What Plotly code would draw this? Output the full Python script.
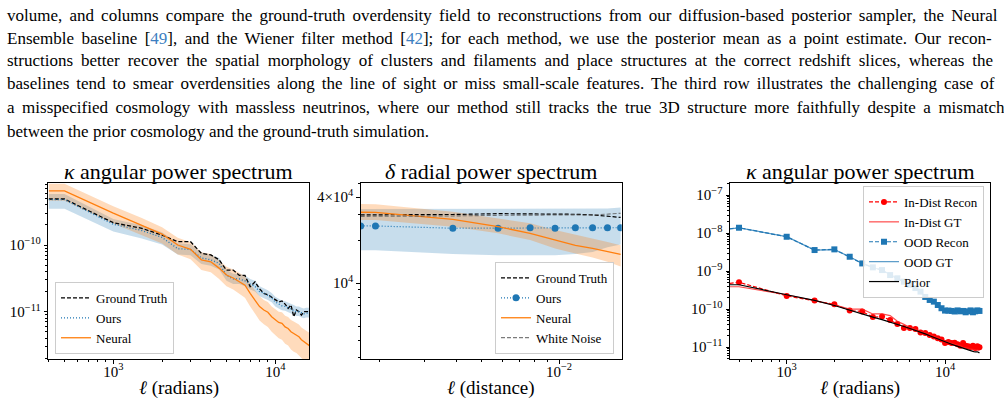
import plotly.graph_objects as go

# ---------------- data ----------------
text_lines = [
    "volume, and columns compare the ground-truth overdensity field to reconstructions from our diffusion-based posterior sampler, the Neural",
    "Ensemble baseline [<span style='color:#3d7fc1'>49</span>], and the Wiener filter method [<span style='color:#3d7fc1'>42</span>]; for each method, we use the posterior mean as a point estimate. Our recon-",
    "structions better recover the spatial morphology of clusters and filaments and place structures at the correct redshift slices, whereas the",
    "baselines tend to smear overdensities along the line of sight or miss small-scale features. The third row illustrates the challenging case of",
    "a misspecified cosmology with massless neutrinos, where our method still tracks the true 3D structure more faithfully despite a mismatch",
    "between the prior cosmology and the ground-truth simulation.",
]

ell = [400, 500, 1000, 1500, 2000, 2500, 3000, 3500, 4000, 4500, 5000, 5500, 6000, 6500, 7000, 7500,
       8000, 8500, 9000, 9500, 10000, 10500, 11000, 11500, 12000, 12500, 13000, 13500, 14000, 14500,
       15000, 15500, 16000, 16500]

# panel 1: kappa angular power spectrum
k_gt = [4.9e-10, 4.9e-10, 2.16e-10, 1.78e-10, 1.41e-10, 1.12e-10, 1.12e-10, 7.5e-11, 7.1e-11, 6.0e-11,
        4.2e-11, 4.2e-11, 3.5e-11, 3.5e-11, 2.37e-11, 2.8e-11, 2.2e-11, 1.88e-11, 1.8e-11, 1.65e-11,
        1.5e-11, 1.4e-11, 1.45e-11, 1.3e-11, 1.12e-11, 1.26e-11, 8.4e-12, 1.06e-11, 1.0e-11, 8.9e-12,
        1.0e-11, 1.0e-11, 9.8e-12, 1.0e-11]
k_ours = [4.8e-10, 4.8e-10, 2.05e-10, 1.65e-10, 1.3e-10, 8.8e-11, 8.6e-11, 6.4e-11, 6.0e-11, 5.3e-11,
          3.5e-11, 3.1e-11, 3.1e-11, 2.9e-11, 2.6e-11, 2.4e-11, 2.0e-11, 1.9e-11, 1.75e-11, 1.6e-11,
          1.4e-11, 1.3e-11, 1.22e-11, 1.2e-11, 1.15e-11, 1.1e-11, 1.05e-11, 1.0e-11, 1.0e-11, 9.5e-12,
          9.3e-12, 9.5e-12, 9.5e-12, 9.5e-12]
k_ours_lo = [3.5e-10, 3.5e-10, 1.6e-10, 1.25e-10, 1.02e-10, 7.2e-11, 7.0e-11, 5.2e-11, 4.9e-11, 4.3e-11,
             2.9e-11, 2.6e-11, 2.6e-11, 2.4e-11, 2.15e-11, 2.0e-11, 1.7e-11, 1.6e-11, 1.5e-11, 1.38e-11,
             1.2e-11, 1.12e-11, 1.05e-11, 1.03e-11, 9.9e-12, 9.5e-12, 9.0e-12, 8.6e-12, 8.6e-12, 8.2e-12,
             8.0e-12, 8.2e-12, 8.2e-12, 8.2e-12]
k_ours_hi = [5.8e-10, 5.8e-10, 2.45e-10, 1.98e-10, 1.56e-10, 1.06e-10, 1.03e-10, 7.7e-11, 7.2e-11, 6.4e-11,
             4.2e-11, 3.7e-11, 3.7e-11, 3.5e-11, 3.1e-11, 2.9e-11, 2.4e-11, 2.25e-11, 2.1e-11, 1.9e-11,
             1.68e-11, 1.56e-11, 1.46e-11, 1.43e-11, 1.38e-11, 1.32e-11, 1.26e-11, 1.2e-11, 1.2e-11, 1.14e-11,
             1.12e-11, 1.14e-11, 1.14e-11, 1.14e-11]
k_neural = [6.5e-10, 6.5e-10, 3.0e-10, 2.0e-10, 1.46e-10, 1.0e-10, 8.6e-11, 6.0e-11, 5.6e-11, 4.5e-11,
            3.55e-11, 3.2e-11, 2.8e-11, 2.5e-11, 1.88e-11, 1.5e-11, 1.19e-11, 1.06e-11, 9.8e-12, 8.4e-12,
            7.5e-12, 6.9e-12, 6.7e-12, 5.9e-12, 5.6e-12, 5.0e-12, 4.7e-12, 4.5e-12, 4.2e-12, 3.8e-12,
            3.55e-12, 3.4e-12, 3.2e-12, 3.0e-12]
k_neural_lo = [4.6e-10, 4.6e-10, 2.1e-10, 1.4e-10, 1.05e-10, 7.2e-11, 6.1e-11, 4.2e-11, 3.9e-11, 3.1e-11,
               2.4e-11, 2.15e-11, 1.85e-11, 1.62e-11, 1.2e-11, 9.5e-12, 7.4e-12, 6.5e-12, 5.9e-12, 5.0e-12,
               4.4e-12, 4.0e-12, 3.8e-12, 3.3e-12, 3.1e-12, 2.7e-12, 2.5e-12, 2.4e-12, 2.2e-12, 2.0e-12,
               1.85e-12, 1.75e-12, 1.65e-12, 1.55e-12]
k_neural_hi = [8.3e-10, 8.3e-10, 3.8e-10, 2.55e-10, 1.85e-10, 1.28e-10, 1.1e-10, 7.8e-11, 7.3e-11, 5.9e-11,
               4.7e-11, 4.3e-11, 3.8e-11, 3.4e-11, 2.6e-11, 2.1e-11, 1.7e-11, 1.5e-11, 1.4e-11, 1.2e-11,
               1.08e-11, 1.0e-11, 9.8e-12, 8.7e-12, 8.3e-12, 7.5e-12, 7.1e-12, 6.8e-12, 6.4e-12, 5.8e-12,
               5.5e-12, 5.3e-12, 5.0e-12, 4.7e-12]

# panel 2: delta radial power spectrum
dist = [0.00169, 0.00193, 0.00386, 0.00579, 0.00772, 0.00965, 0.01158, 0.01351, 0.01544, 0.01737]
d_gt = [30000, 30000, 30200, 30600, 30600, 30500, 30300, 30000, 29200, 28800]
d_wn = [29300, 29300, 29500, 29800, 30000, 30000, 30000, 29900, 30300, 30800]
d_ours = [25100, 25100, 24200, 24200, 24400, 24200, 24400, 24400, 24400, 24400]
d_ours_lo = [17000, 17000, 16000, 15700, 15700, 15700, 16000, 16500, 17800, 18600]
d_ours_hi = [33000, 33000, 33200, 33000, 33000, 33000, 33000, 33000, 33200, 33800]
d_neural = [31300, 31200, 27900, 24800, 22300, 20000, 18400, 17500, 16700, 15900]
d_neural_lo = [27600, 27600, 24800, 22300, 20000, 17500, 16100, 15100, 14100, 13100]
d_neural_hi = [35800, 35600, 31600, 28400, 26200, 23500, 21900, 20500, 19400, 18400]

# panel 3: in-distribution vs OOD
ood_recon = [1.25e-8, 1.39e-8, 8.05e-9, 3.6e-9, 3.75e-9, 2.4e-9, 1.6e-9, 1.26e-9, 1.07e-9, 7.9e-10,
             6.5e-10, 5.3e-10, 4.4e-10, 3.6e-10, 2.9e-10, 2.1e-10, 1.75e-10, 1.58e-10, 1.29e-10, 1.06e-10,
             9.2e-11, 9.2e-11, 9.0e-11, 8.7e-11, 9.3e-11, 8.8e-11, 9.0e-11, 8.3e-11, 8.8e-11, 9.3e-11,
             8.3e-11, 8.8e-11, 9.3e-11, 9.0e-11]
ood_gt = [1.25e-8, 1.38e-8, 8.1e-9, 3.6e-9, 3.7e-9, 2.4e-9, 1.6e-9, 1.25e-9, 1.06e-9, 8.0e-10,
          6.5e-10, 5.3e-10, 4.4e-10, 3.6e-10, 2.9e-10, 2.1e-10, 1.75e-10, 1.57e-10, 1.3e-10, 1.06e-10,
          9.3e-11, 9.1e-11, 9.0e-11, 8.8e-11, 9.2e-11, 8.8e-11, 9.0e-11, 8.4e-11, 8.8e-11, 9.2e-11,
          8.4e-11, 8.8e-11, 9.2e-11, 9.0e-11]
id_recon = [4.6e-10, 5.1e-10, 2.24e-10, 1.69e-10, 1.35e-10, 9.2e-11, 8.7e-11, 6.2e-11, 6.4e-11, 5.2e-11,
            4.1e-11, 3.2e-11, 3.2e-11, 3.0e-11, 2.44e-11, 2.35e-11, 2.1e-11, 1.9e-11, 1.73e-11, 1.6e-11,
            1.3e-11, 1.38e-11, 1.3e-11, 1.32e-11, 1.2e-11, 1.1e-11, 1.3e-11, 1.1e-11, 1.06e-11, 1.02e-11,
            1.1e-11, 9.6e-12, 1.06e-11, 1.0e-11]
id_gt = [3.9e-10, 3.9e-10, 2.4e-10, 1.7e-10, 1.3e-10, 1.0e-10, 1.0e-10, 7.5e-11, 7.5e-11, 6.8e-11,
         4.8e-11, 4.0e-11, 3.3e-11, 3.0e-11, 2.6e-11, 2.4e-11, 2.2e-11, 1.95e-11, 1.8e-11, 1.6e-11,
         1.4e-11, 1.35e-11, 1.25e-11, 1.2e-11, 1.15e-11, 1.1e-11, 1.0e-11, 9.8e-12, 9.5e-12, 9.0e-12,
         8.8e-12, 8.6e-12, 8.4e-12, 8.2e-12]
prior = [4.4e-10, 4.4e-10, 2.4e-10, 1.7e-10, 1.25e-10, 9.3e-11, 7.5e-11, 6.2e-11, 5.3e-11, 4.6e-11,
         4.0e-11, 3.5e-11, 3.1e-11, 2.8e-11, 2.5e-11, 2.25e-11, 2.0e-11, 1.8e-11, 1.65e-11, 1.52e-11,
         1.4e-11, 1.3e-11, 1.2e-11, 1.12e-11, 1.05e-11, 9.9e-12, 9.4e-12, 8.9e-12, 8.5e-12, 8.1e-12,
         7.8e-12, 7.5e-12, 7.6e-12, 7.1e-12]

# tick labels
p1_yticks = [1e-11, 1e-10]
p1_ytext = ["10<sup>−11</sup>", "10<sup>−10</sup>"]
ell_xticks = [1e3, 1e4]
ell_xtext = ["10<sup>3</sup>", "10<sup>4</sup>"]
p2_yticks = [1e4, 4e4]
p2_ytext = ["10<sup>4</sup>", "4×10<sup>4</sup>"]
p2_xticks = [1e-2]
p2_xtext = ["10<sup>−2</sup>"]
p3_yticks = [1e-11, 1e-10, 1e-9, 1e-8, 1e-7]
p3_ytext = ["10<sup>−11</sup>", "10<sup>−10</sup>", "10<sup>−9</sup>", "10<sup>−8</sup>", "10<sup>−7</sup>"]

# ---------------- styling ----------------
W, H = 1004, 403
FONT = "'Liberation Serif', 'Times New Roman', Times, 'DejaVu Serif', serif"
BLUE = "#1f77b4"
ORANGE = "#ff7f0e"
BLUE_FILL = "rgba(31,119,180,0.25)"
ORANGE_FILL = "rgba(255,127,14,0.28)"
# word spacing (px) used to imitate the justified paragraph
line_wordspacing = [2.9, 3.2, 3.7, 2.75, 3.3, 0]


def px_x(p):
    return p / W


def px_y(p):
    return 1 - p / H


def minor_vals(lo_exp, hi_exp):
    vals = []
    for e in range(lo_exp, hi_exp + 1):
        for m in range(2, 10):
            vals.append(m * 10.0 ** e)
    return vals


fig = go.Figure()


def band(x, lo, hi, color, xa, ya):
    fig.add_trace(go.Scatter(x=x, y=lo, mode="lines", line=dict(width=0), showlegend=False,
                             xaxis=xa, yaxis=ya, hoverinfo="skip"))
    fig.add_trace(go.Scatter(x=x, y=hi, mode="lines", line=dict(width=0), fill="tonexty",
                             fillcolor=color, showlegend=False, xaxis=xa, yaxis=ya, hoverinfo="skip"))


# panel 1
band(ell, k_ours_lo, k_ours_hi, BLUE_FILL, "x", "y")
band(ell, k_neural_lo, k_neural_hi, ORANGE_FILL, "x", "y")
fig.add_trace(go.Scatter(x=ell, y=k_gt, mode="lines", name="Ground Truth",
                         line=dict(color="black", width=1.3, dash="4px,2px"), xaxis="x", yaxis="y", legend="legend"))
fig.add_trace(go.Scatter(x=ell, y=k_ours, mode="lines", name="Ours",
                         line=dict(color=BLUE, width=1.3, dash="1px,2px"), xaxis="x", yaxis="y", legend="legend"))
fig.add_trace(go.Scatter(x=ell, y=k_neural, mode="lines", name="Neural",
                         line=dict(color=ORANGE, width=1.3), xaxis="x", yaxis="y", legend="legend"))

# panel 2
band(dist, d_ours_lo, d_ours_hi, BLUE_FILL, "x2", "y2")
band(dist, d_neural_lo, d_neural_hi, ORANGE_FILL, "x2", "y2")
fig.add_trace(go.Scatter(x=dist, y=d_gt, mode="lines", name="Ground Truth",
                         line=dict(color="black", width=1.2, dash="4px,2px"), xaxis="x2", yaxis="y2", legend="legend2"))
fig.add_trace(go.Scatter(x=dist, y=d_ours, mode="lines+markers", name="Ours",
                         line=dict(color=BLUE, width=1.2, dash="1px,2px"), marker=dict(size=7, color=BLUE),
                         xaxis="x2", yaxis="y2", legend="legend2"))
fig.add_trace(go.Scatter(x=dist, y=d_neural, mode="lines", name="Neural",
                         line=dict(color=ORANGE, width=1.3), xaxis="x2", yaxis="y2", legend="legend2"))
fig.add_trace(go.Scatter(x=dist, y=d_wn, mode="lines", name="White Noise",
                         line=dict(color="rgba(90,90,90,0.8)", width=1.1, dash="4px,2px"), xaxis="x2", yaxis="y2",
                         legend="legend2"))

# panel 3
fig.add_trace(go.Scatter(x=ell, y=id_recon, mode="lines+markers", name="In-Dist Recon",
                         line=dict(color="red", width=1.2, dash="4px,2px"), marker=dict(size=6, color="red"),
                         xaxis="x3", yaxis="y3", legend="legend3"))
fig.add_trace(go.Scatter(x=ell, y=id_gt, mode="lines", name="In-Dist GT",
                         line=dict(color="rgba(255,30,30,0.8)", width=1.2), xaxis="x3", yaxis="y3", legend="legend3"))
fig.add_trace(go.Scatter(x=ell, y=ood_recon, mode="lines+markers", name="OOD Recon",
                         line=dict(color=BLUE, width=1.2, dash="4px,2px"), marker=dict(size=6, symbol="square", color=BLUE),
                         xaxis="x3", yaxis="y3", legend="legend3"))
fig.add_trace(go.Scatter(x=ell, y=ood_gt, mode="lines", name="OOD GT",
                         line=dict(color="rgba(31,119,180,0.75)", width=1.2), xaxis="x3", yaxis="y3", legend="legend3"))
fig.add_trace(go.Scatter(x=ell, y=prior, mode="lines", name="Prior",
                         line=dict(color="black", width=1.2), xaxis="x3", yaxis="y3", legend="legend3"))

tickfont = dict(family=FONT, size=15, color="black")


def axis(domain, rng, tickvals, ticktext, minor, anchor, standoff=0):
    return dict(type="log", domain=domain, range=rng, anchor=anchor,
                tickmode="array", tickvals=tickvals, ticktext=ticktext,
                ticks="outside", ticklen=3.5, tickwidth=0.8, tickcolor="black",
                showline=True, linecolor="black", linewidth=1, mirror=True,
                showgrid=False, zeroline=False, tickfont=tickfont, ticklabelstandoff=standoff,
                minor=dict(tickmode="array", tickvals=minor, ticks="outside", ticklen=2,
                           tickwidth=0.6, tickcolor="black", showgrid=False))


ydom = [px_y(359), px_y(183)]
fig.update_layout(
    width=W, height=H, margin=dict(l=0, r=0, t=0, b=0),
    paper_bgcolor="white", plot_bgcolor="white",
    font=dict(family=FONT, color="black"),
    xaxis=axis([px_x(48.3), px_x(309.3)], [2.599, 4.21], ell_xticks, ell_xtext, minor_vals(2, 4), "y", -5),
    yaxis=axis(ydom, [-11.71, -9.07], p1_yticks, p1_ytext, minor_vals(-12, -10), "x"),
    xaxis2=axis([px_x(360.7), px_x(621.7)], [-2.772, -1.756], p2_xticks, p2_xtext, minor_vals(-3, -2), "y2", -5),
    yaxis2=axis(ydom, [3.47, 4.70], p2_yticks, p2_ytext, minor_vals(3, 4), "x2"),
    xaxis3=axis([px_x(730), px_x(990)], [2.642, 4.284], ell_xticks, ell_xtext, minor_vals(2, 4), "y3", -5),
    yaxis3=axis(ydom, [-11.31, -6.68], p3_yticks, p3_ytext, minor_vals(-12, -7), "x3"),
)

legend_common = dict(bgcolor="rgba(255,255,255,0.85)", bordercolor="#cccccc", borderwidth=1,
                     font=dict(family=FONT, size=13, color="black"), tracegroupgap=0, itemwidth=30,
                     traceorder="normal")
fig.update_layout(
    legend=dict(x=px_x(55), y=px_y(354), xanchor="left", yanchor="bottom", **legend_common),
    legend2=dict(x=px_x(614), y=px_y(354), xanchor="right", yanchor="bottom", **legend_common),
    legend3=dict(x=px_x(984), y=px_y(186), xanchor="right", yanchor="top", **legend_common),
)

annotations = []
line_y = [15, 38, 61, 84, 107.5, 131]
for txt, yy, ws in zip(text_lines, line_y, line_wordspacing):
    annotations.append(dict(text=f"<span style='word-spacing:{ws}px'>{txt}</span>", x=px_x(5), y=px_y(yy),
                            xref="paper", yref="paper",
                            xanchor="left", yanchor="middle", showarrow=False,
                            font=dict(family=FONT, size=17, color="black")))

titles = [("<i>κ</i> angular power spectrum", 178.8), ("<i>δ</i> radial power spectrum", 491.2),
          ("<i>κ</i> angular power spectrum", 860)]
for t, cx in titles:
    annotations.append(dict(text=t, x=px_x(cx), y=px_y(171), xref="paper", yref="paper",
                            xanchor="center", yanchor="middle", showarrow=False,
                            font=dict(family=FONT, size=22, color="black")))
xlabels = [("<i>ℓ</i> (radians)", 178.8), ("<i>ℓ</i> (distance)", 491.2), ("<i>ℓ</i> (radians)", 860)]
for t, cx in xlabels:
    annotations.append(dict(text=t, x=px_x(cx), y=px_y(388), xref="paper", yref="paper",
                            xanchor="center", yanchor="middle", showarrow=False,
                            font=dict(family=FONT, size=19, color="black")))
fig.update_layout(annotations=annotations)

fig.write_html("out.html")
